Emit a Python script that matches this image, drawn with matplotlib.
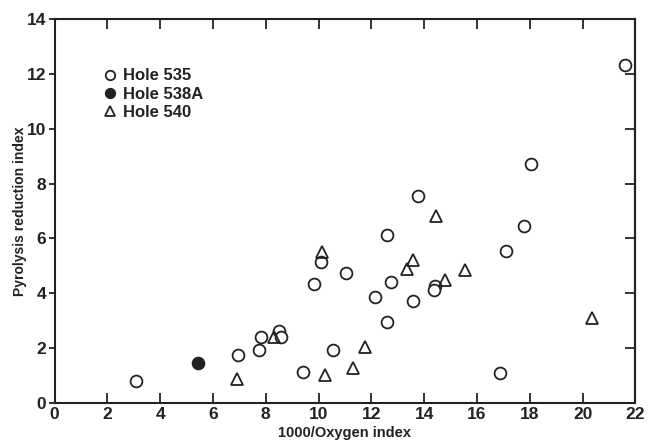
import numpy as np
import matplotlib.pyplot as plt

plt.rcParams['font.family'] = ['Liberation Sans', 'DejaVu Sans']
plt.rcParams['font.weight'] = 'bold'

# Hole 535 (open circles)
x_535 = [3.1, 6.95, 7.75, 7.83, 8.49, 8.58, 9.42, 9.83, 10.08, 10.56, 11.05, 12.13,
         12.58, 12.58, 12.76, 13.57, 13.78, 14.41, 14.37, 16.88, 17.09, 17.78, 18.06, 21.6]
y_535 = [0.8, 1.75, 1.92, 2.4, 2.6, 2.38, 1.12, 4.32, 5.14, 1.92, 4.73, 3.85,
         6.12, 2.96, 4.4, 3.73, 7.55, 4.25, 4.12, 1.08, 5.53, 6.47, 8.7, 12.32]

# Hole 538A (filled circle)
x_538a = [5.45]
y_538a = [1.45]

# Hole 540 (open triangles)
x_540 = [6.9, 8.3, 10.12, 10.25, 11.32, 11.75, 13.35, 13.59, 14.44, 14.79, 15.56, 20.35]
y_540 = [0.85, 2.4, 5.5, 1.0, 1.27, 2.04, 4.9, 5.2, 6.8, 4.49, 4.83, 3.1]

x_ticks = list(range(0, 23, 2))
y_ticks = list(range(0, 15, 2))

ink = '#222222'

fig = plt.figure(figsize=(6.49, 4.41), dpi=100)
ax = fig.add_axes([0.084, 0.087, 0.895, 0.869])

ax.plot(x_535, y_535, 'o', ms=8.5, mfc='white', mec=ink, mew=1.3, ls='none', label='Hole 535')
ax.plot(x_538a, y_538a, 'o', ms=8.5, mfc=ink, mec=ink, mew=1.3, ls='none', label='Hole 538A')
ax.plot(x_540, y_540, '^', ms=9, mfc='none', mec=ink, mew=1.3, ls='none', label='Hole 540')

ax.set_xlim(0, 22)
ax.set_ylim(0, 14)
ax.set_xticks(x_ticks)
ax.set_xticklabels([str(v) for v in x_ticks], fontsize=12.5, fontweight='bold')
ax.set_yticks(y_ticks)
ax.set_yticklabels([str(v) for v in y_ticks], fontsize=12.5, fontweight='bold')

# left ticks point out, the other sides point in
ax.tick_params(axis='y', which='both', direction='out', left=True, right=False,
               length=4, width=1.3, colors=ink, pad=2)
ax.tick_params(axis='x', which='both', direction='in', top=True, bottom=True,
               length=7, width=1.3, colors=ink, pad=3)

ax2 = ax.secondary_yaxis('right')
ax2.set_yticks(y_ticks)
ax2.tick_params(direction='in', length=7, width=1.3, colors=ink, labelright=False)

for sp in ax.spines.values():
    sp.set_linewidth(1.5)
    sp.set_color(ink)
ax2.spines['right'].set_linewidth(1.5)
ax2.spines['right'].set_color(ink)

ax.set_xlabel('1000/Oxygen index', fontsize=10.5, fontweight='bold', color=ink, labelpad=3)
ax.set_ylabel('Pyrolysis reduction index', fontsize=10, fontweight='bold', color=ink, labelpad=0)

leg = ax.legend(loc='upper left', bbox_to_anchor=(0.082, 0.872), frameon=False,
                prop={'size': 12, 'weight': 'bold'}, handletextpad=0.25, labelspacing=0.2,
                handlelength=1.0, markerscale=0.8, borderaxespad=0, borderpad=0)
for t in leg.get_texts():
    t.set_color(ink)

fig.savefig('out.png', dpi=100)
